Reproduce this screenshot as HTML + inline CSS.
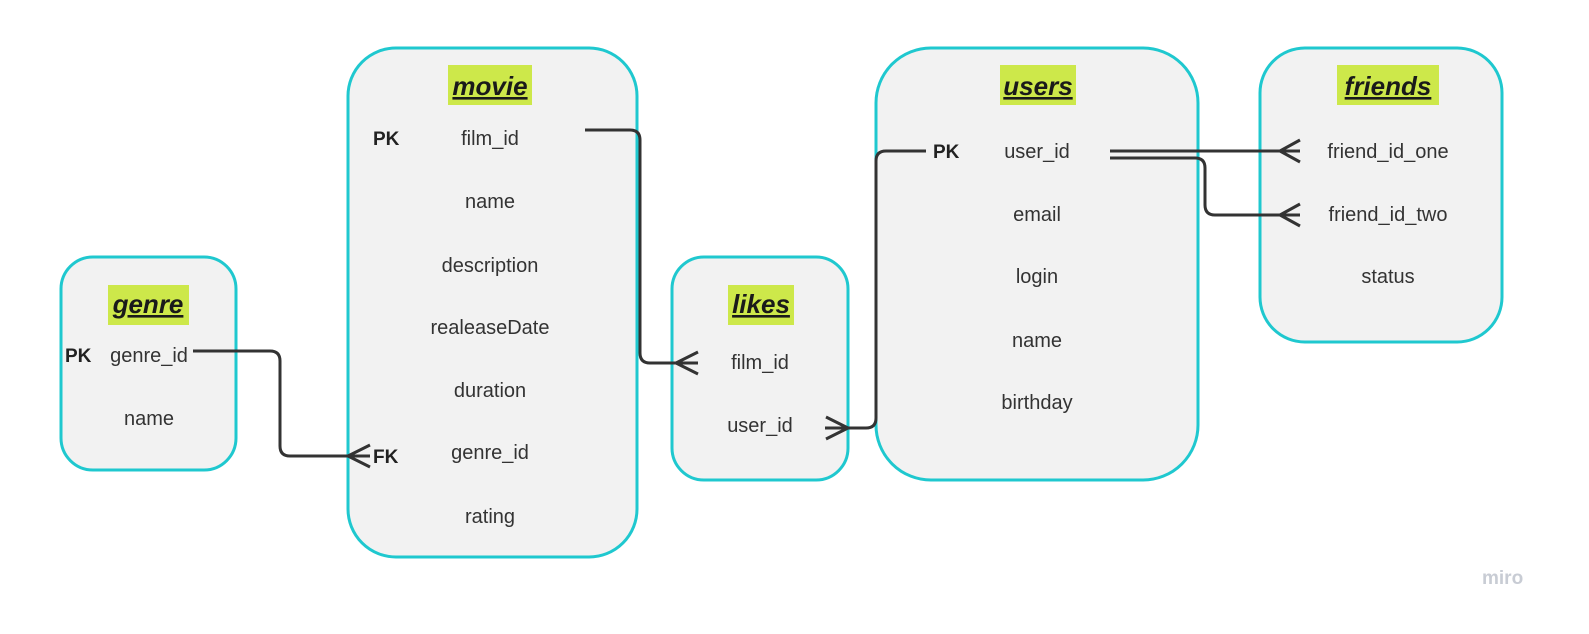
<!DOCTYPE html>
<html><head><meta charset="utf-8"><style>
body{margin:0;background:#fff;width:1589px;height:629px;overflow:hidden}
text{font-family:"Liberation Sans",sans-serif;fill:#333;font-size:20px}
.t{font-weight:bold;font-style:italic;font-size:26px;fill:#1a1a1a;text-decoration:underline}
.k{font-weight:bold;font-size:19px;fill:#222}
</style></head><body>
<svg width="1589" height="629" viewBox="0 0 1589 629">
<g fill="#f2f2f2" stroke="#1fc8cf" stroke-width="3">
<rect x="61" y="257" width="175" height="213" rx="32"/>
<rect x="348" y="48" width="289" height="509" rx="48"/>
<rect x="672" y="257" width="176" height="223" rx="32"/>
<rect x="876" y="48" width="322" height="432" rx="55"/>
<rect x="1260" y="48" width="242" height="294" rx="45"/>
</g>
<g fill="#cde84a">
<rect x="108" y="285" width="81" height="40"/>
<rect x="448" y="65" width="84" height="40"/>
<rect x="728" y="285" width="66" height="40"/>
<rect x="1000" y="65" width="76" height="40"/>
<rect x="1337" y="65" width="102" height="40"/>
</g>
<g text-anchor="middle">
<text class="t" x="148" y="313">genre</text>
<text class="t" x="490" y="95">movie</text>
<text class="t" x="761" y="313">likes</text>
<text class="t" x="1038" y="95">users</text>
<text class="t" x="1388" y="95">friends</text>
<text x="149" y="362">genre_id</text>
<text x="149" y="425">name</text>
<text x="490" y="145">film_id</text>
<text x="490" y="208">name</text>
<text x="490" y="272">description</text>
<text x="490" y="334">realeaseDate</text>
<text x="490" y="397">duration</text>
<text x="490" y="459">genre_id</text>
<text x="490" y="523">rating</text>
<text x="760" y="369">film_id</text>
<text x="760" y="432">user_id</text>
<text x="1037" y="158">user_id</text>
<text x="1037" y="221">email</text>
<text x="1037" y="283">login</text>
<text x="1037" y="347">name</text>
<text x="1037" y="409">birthday</text>
<text x="1388" y="158">friend_id_one</text>
<text x="1388" y="221">friend_id_two</text>
<text x="1388" y="283">status</text>
</g>
<text class="k" x="65" y="362">PK</text>
<text class="k" x="373" y="145">PK</text>
<text class="k" x="373" y="463">FK</text>
<text class="k" x="933" y="158">PK</text>
<text x="1482" y="584" style="fill:#c8ccd4;font-size:19px;font-weight:bold">miro</text>
<g fill="none" stroke="#333" stroke-width="3" stroke-linejoin="round">
<path d="M585 130 H630 Q640 130 640 140 V353 Q640 363 650 363 H698"/>
<path d="M698 352 L676 363 L698 374"/>
<path d="M193 351 H270 Q280 351 280 361 V446 Q280 456 290 456 H370"/>
<path d="M370 445 L348 456 L370 467"/>
<path d="M825 428 H866 Q876 428 876 418 V161 Q876 151 886 151 H926"/>
<path d="M826 417 L848 428 L826 439"/>
<path d="M1110 151 H1300"/>
<path d="M1300 140 L1280 151 L1300 162"/>
<path d="M1110 158 H1195 Q1205 158 1205 168 V205 Q1205 215 1215 215 H1300"/>
<path d="M1300 204 L1280 215 L1300 226"/>
</g>
</svg>
</body></html>
